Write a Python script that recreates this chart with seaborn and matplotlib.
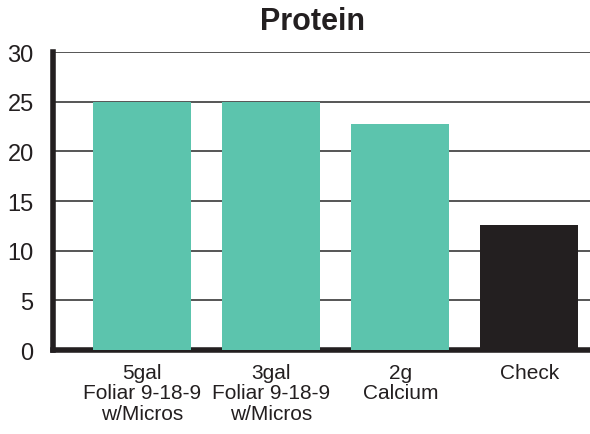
import matplotlib
matplotlib.use("Agg")
import matplotlib.pyplot as plt
import seaborn as sns
import pandas as pd

treatments = ["5gal\nFoliar 9-18-9\nw/Micros", "3gal\nFoliar 9-18-9\nw/Micros", "2g\nCalcium", "Check"]
protein = [25.0, 25.0, 22.8, 12.6]
bar_colors = ["#5cc4ad", "#5cc4ad", "#5cc4ad", "#231f20"]

sns.set_style("white")
plt.rcParams['font.family'] = ['Liberation Sans', 'DejaVu Sans']
plt.rcParams['text.color'] = "#231f20"
plt.rcParams['xtick.color'] = "#231f20"
plt.rcParams['ytick.color'] = "#231f20"

df = pd.DataFrame({"Treatment": treatments, "Protein": protein})

fig = plt.figure(figsize=(5.9, 4.35), dpi=100)
axe = fig.add_axes([0.09, 0.193, 0.91, 0.685])
sns.barplot(data=df, x="Treatment", y="Protein", hue="Treatment",
            palette=bar_colors, saturation=1, width=0.76, linewidth=0,
            legend=False, ax=axe, zorder=3)

axe.set_ylim(0, 30)
axe.set_yticks([0, 5, 10, 15, 20, 25, 30])
axe.set_xlim(-0.69, 3.47)
axe.yaxis.grid(True, color="#555555", linewidth=1.4, zorder=0)
axe.set_axisbelow(True)
axe.set_xlabel("")
axe.set_ylabel("")
fig.suptitle("Protein", fontsize=22, fontweight="bold", x=0.53, y=0.985, va="top")
axe.tick_params(axis="y", length=0, pad=14, labelsize=17)
axe.tick_params(axis="x", length=0, pad=9, labelsize=15)
for lbl in axe.get_xticklabels():
    lbl.set_linespacing(1.1)

for side in ["top", "right"]:
    axe.spines[side].set_visible(False)
for side in ["left", "bottom"]:
    axe.spines[side].set_color("#231f20")
    axe.spines[side].set_linewidth(4)

fig.savefig("out.png", dpi=100)
